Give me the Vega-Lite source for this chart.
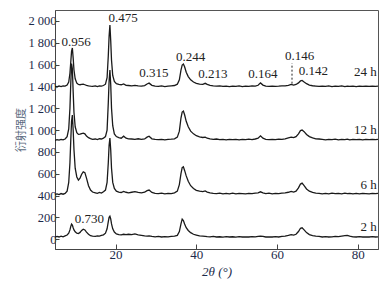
{
  "$schema": "https://vega.github.io/schema/vega-lite/v6.json",
  "width": 323,
  "height": 239,
  "autosize": "none",
  "padding": {"left": 55, "top": 10, "right": 8, "bottom": 37},
  "background": "white",
  "config": {
    "view": {"stroke": "#555", "strokeWidth": 1},
    "font": "Liberation Serif",
    "axis": {"labelOverlap": false, "labelSeparation": 0}
  },
  "encoding": {
    "x": {
      "field": "x", "type": "quantitative",
      "scale": {"domain": [5, 85], "nice": false, "zero": false},
      "axis": {
        "values": [20, 40, 60, 80], "grid": false,
        "title": "2θ (°)", "titleFontStyle": "italic", "titleFontWeight": "normal",
        "titleFont": "Liberation Serif", "titleFontSize": 13, "titleColor": "#1c2a4a",
        "titlePadding": 4,
        "labelFont": "Liberation Serif", "labelFontSize": 13, "labelColor": "#1c2a4a",
        "tickSize": -5, "labelPadding": 4, "tickColor": "#444", "domainColor": "#444",
        "labelFlush": false, "labelOverlap": false
      }
    },
    "y": {
      "field": "v", "type": "quantitative",
      "scale": {"domain": [-90, 2100], "nice": false, "zero": false},
      "axis": {
        "values": [0, 200, 400, 600, 800, 1000, 1200, 1400, 1600, 1800, 2000], "grid": false,
        "labelExpr": "replace(format(datum.value, ','), ',', ' ')",
        "title": "衍射强度", "titleFont": "Noto Sans CJK SC", "titleFontSize": 11,
        "titleFontWeight": "normal", "titleColor": "#5a6a80", "titlePadding": 1,
        "labelFont": "Liberation Serif", "labelFontSize": 12.5, "labelColor": "#1c2a4a",
        "tickSize": -4, "labelPadding": 3, "tickColor": "#444", "domainColor": "#444",
        "labelFlush": false, "labelOverlap": false, "labelBound": false
      }
    }
  },
  "layer": [
    {
      "data": {"values": [
        {"x":5,"h2":18,"h6":410,"h12":905,"h24":1400},
        {"x":5.5,"h2":25,"h6":415,"h12":912,"h24":1395},
        {"x":6,"h2":20,"h6":408,"h12":908,"h24":1404},
        {"x":6.5,"h2":28,"h6":418,"h12":915,"h24":1398},
        {"x":7,"h2":22,"h6":412,"h12":910,"h24":1405},
        {"x":7.5,"h2":30,"h6":420,"h12":918,"h24":1402},
        {"x":8,"h2":38,"h6":440,"h12":940,"h24":1412},
        {"x":8.4,"h2":55,"h6":520,"h12":1010,"h24":1440},
        {"x":8.7,"h2":85,"h6":700,"h12":1200,"h24":1520},
        {"x":8.9,"h2":115,"h6":900,"h12":1420,"h24":1620},
        {"x":9.1,"h2":138,"h6":1080,"h12":1610,"h24":1720},
        {"x":9.3,"h2":130,"h6":1137,"h12":1560,"h24":1752},
        {"x":9.5,"h2":105,"h6":1000,"h12":1350,"h24":1660},
        {"x":9.7,"h2":85,"h6":820,"h12":1160,"h24":1550},
        {"x":10,"h2":68,"h6":650,"h12":1030,"h24":1470},
        {"x":10.4,"h2":55,"h6":570,"h12":975,"h24":1430},
        {"x":10.8,"h2":52,"h6":541,"h12":960,"h24":1418},
        {"x":11.2,"h2":62,"h6":560,"h12":962,"h24":1415},
        {"x":11.6,"h2":80,"h6":595,"h12":968,"h24":1418},
        {"x":12,"h2":92,"h6":617,"h12":972,"h24":1420},
        {"x":12.4,"h2":85,"h6":610,"h12":965,"h24":1415},
        {"x":12.8,"h2":65,"h6":560,"h12":945,"h24":1410},
        {"x":13.3,"h2":45,"h6":490,"h12":930,"h24":1405},
        {"x":13.8,"h2":32,"h6":450,"h12":922,"h24":1402},
        {"x":14.3,"h2":28,"h6":432,"h12":915,"h24":1400},
        {"x":15,"h2":25,"h6":425,"h12":918,"h24":1405},
        {"x":15.5,"h2":30,"h6":420,"h12":912,"h24":1398},
        {"x":16,"h2":28,"h6":428,"h12":920,"h24":1404},
        {"x":16.5,"h2":35,"h6":422,"h12":918,"h24":1402},
        {"x":17,"h2":40,"h6":435,"h12":925,"h24":1408},
        {"x":17.5,"h2":55,"h6":450,"h12":940,"h24":1420},
        {"x":17.9,"h2":95,"h6":520,"h12":1000,"h24":1480},
        {"x":18.2,"h2":160,"h6":700,"h12":1250,"h24":1680},
        {"x":18.4,"h2":200,"h6":860,"h12":1450,"h24":1860},
        {"x":18.6,"h2":211,"h6":926,"h12":1550,"h24":1962},
        {"x":18.8,"h2":185,"h6":820,"h12":1420,"h24":1820},
        {"x":19,"h2":140,"h6":650,"h12":1200,"h24":1640},
        {"x":19.3,"h2":95,"h6":520,"h12":1040,"h24":1500},
        {"x":19.7,"h2":65,"h6":465,"h12":965,"h24":1445},
        {"x":20.2,"h2":48,"h6":440,"h12":940,"h24":1425},
        {"x":20.8,"h2":42,"h6":432,"h12":930,"h24":1418},
        {"x":21.4,"h2":40,"h6":428,"h12":925,"h24":1415},
        {"x":22,"h2":45,"h6":438,"h12":944,"h24":1422},
        {"x":22.6,"h2":42,"h6":430,"h12":925,"h24":1410},
        {"x":23.2,"h2":45,"h6":425,"h12":920,"h24":1408},
        {"x":24,"h2":42,"h6":430,"h12":918,"h24":1405},
        {"x":24.8,"h2":48,"h6":435,"h12":915,"h24":1410},
        {"x":25.6,"h2":40,"h6":428,"h12":920,"h24":1404},
        {"x":26.4,"h2":35,"h6":425,"h12":915,"h24":1402},
        {"x":27.2,"h2":30,"h6":430,"h12":918,"h24":1408},
        {"x":27.8,"h2":28,"h6":445,"h12":935,"h24":1422},
        {"x":28.3,"h2":30,"h6":450,"h12":944,"h24":1430},
        {"x":29,"h2":25,"h6":428,"h12":920,"h24":1410},
        {"x":29.8,"h2":22,"h6":420,"h12":915,"h24":1403},
        {"x":30.6,"h2":25,"h6":418,"h12":912,"h24":1400},
        {"x":31.4,"h2":20,"h6":422,"h12":915,"h24":1404},
        {"x":32.2,"h2":24,"h6":415,"h12":910,"h24":1398},
        {"x":33,"h2":22,"h6":420,"h12":914,"h24":1402},
        {"x":33.8,"h2":26,"h6":418,"h12":916,"h24":1405},
        {"x":34.6,"h2":28,"h6":425,"h12":920,"h24":1408},
        {"x":35.3,"h2":35,"h6":440,"h12":935,"h24":1420},
        {"x":35.8,"h2":70,"h6":500,"h12":990,"h24":1460},
        {"x":36.2,"h2":140,"h6":600,"h12":1110,"h24":1550},
        {"x":36.5,"h2":183,"h6":655,"h12":1165,"h24":1595},
        {"x":36.8,"h2":170,"h6":663,"h12":1174,"h24":1605},
        {"x":37.1,"h2":140,"h6":630,"h12":1140,"h24":1580},
        {"x":37.5,"h2":105,"h6":580,"h12":1080,"h24":1530},
        {"x":38,"h2":80,"h6":530,"h12":1030,"h24":1490},
        {"x":38.6,"h2":60,"h6":490,"h12":990,"h24":1460},
        {"x":39.3,"h2":45,"h6":465,"h12":965,"h24":1440},
        {"x":40,"h2":38,"h6":448,"h12":948,"h24":1428},
        {"x":40.8,"h2":30,"h6":440,"h12":938,"h24":1420},
        {"x":41.6,"h2":28,"h6":435,"h12":932,"h24":1418},
        {"x":42.2,"h2":26,"h6":442,"h12":935,"h24":1428},
        {"x":42.7,"h2":24,"h6":432,"h12":925,"h24":1418},
        {"x":43.4,"h2":22,"h6":425,"h12":920,"h24":1410},
        {"x":44.2,"h2":25,"h6":420,"h12":915,"h24":1405},
        {"x":45,"h2":20,"h6":418,"h12":918,"h24":1402},
        {"x":45.8,"h2":22,"h6":422,"h12":912,"h24":1404},
        {"x":46.6,"h2":18,"h6":415,"h12":915,"h24":1400},
        {"x":47.4,"h2":24,"h6":420,"h12":910,"h24":1403},
        {"x":48.2,"h2":20,"h6":416,"h12":914,"h24":1398},
        {"x":49,"h2":22,"h6":422,"h12":912,"h24":1402},
        {"x":49.8,"h2":18,"h6":415,"h12":915,"h24":1400},
        {"x":50.6,"h2":24,"h6":420,"h12":910,"h24":1404},
        {"x":51.4,"h2":20,"h6":418,"h12":914,"h24":1398},
        {"x":52.2,"h2":22,"h6":415,"h12":912,"h24":1402},
        {"x":53,"h2":20,"h6":420,"h12":916,"h24":1400},
        {"x":53.8,"h2":24,"h6":418,"h12":912,"h24":1404},
        {"x":54.6,"h2":22,"h6":422,"h12":918,"h24":1402},
        {"x":55.3,"h2":25,"h6":425,"h12":925,"h24":1410},
        {"x":55.9,"h2":28,"h6":434,"h12":947,"h24":1432},
        {"x":56.5,"h2":25,"h6":425,"h12":925,"h24":1412},
        {"x":57.2,"h2":20,"h6":418,"h12":915,"h24":1402},
        {"x":58,"h2":22,"h6":422,"h12":912,"h24":1400},
        {"x":58.8,"h2":20,"h6":416,"h12":915,"h24":1403},
        {"x":59.6,"h2":24,"h6":420,"h12":912,"h24":1400},
        {"x":60.4,"h2":20,"h6":418,"h12":916,"h24":1402},
        {"x":61.2,"h2":25,"h6":422,"h12":915,"h24":1405},
        {"x":62,"h2":28,"h6":425,"h12":920,"h24":1404},
        {"x":62.8,"h2":35,"h6":430,"h12":928,"h24":1410},
        {"x":63.5,"h2":42,"h6":438,"h12":935,"h24":1418},
        {"x":64.1,"h2":38,"h6":432,"h12":930,"h24":1412},
        {"x":64.7,"h2":45,"h6":440,"h12":940,"h24":1418},
        {"x":65.3,"h2":70,"h6":470,"h12":965,"h24":1432},
        {"x":65.8,"h2":100,"h6":505,"h12":995,"h24":1450},
        {"x":66.2,"h2":104,"h6":513,"h12":1000,"h24":1455},
        {"x":66.7,"h2":85,"h6":490,"h12":985,"h24":1440},
        {"x":67.3,"h2":60,"h6":460,"h12":960,"h24":1425},
        {"x":68,"h2":42,"h6":440,"h12":940,"h24":1412},
        {"x":68.8,"h2":32,"h6":428,"h12":928,"h24":1406},
        {"x":69.6,"h2":28,"h6":422,"h12":920,"h24":1403},
        {"x":70.4,"h2":25,"h6":420,"h12":918,"h24":1400},
        {"x":71.2,"h2":20,"h6":416,"h12":914,"h24":1403},
        {"x":72,"h2":24,"h6":420,"h12":910,"h24":1400},
        {"x":72.8,"h2":20,"h6":415,"h12":915,"h24":1404},
        {"x":73.6,"h2":22,"h6":422,"h12":912,"h24":1398},
        {"x":74.4,"h2":25,"h6":418,"h12":916,"h24":1402},
        {"x":75.2,"h2":24,"h6":420,"h12":910,"h24":1400},
        {"x":76,"h2":28,"h6":416,"h12":914,"h24":1404},
        {"x":76.8,"h2":32,"h6":422,"h12":912,"h24":1398},
        {"x":77.4,"h2":34,"h6":418,"h12":916,"h24":1402},
        {"x":78,"h2":28,"h6":420,"h12":910,"h24":1400},
        {"x":78.8,"h2":22,"h6":415,"h12":914,"h24":1403},
        {"x":79.6,"h2":20,"h6":420,"h12":912,"h24":1398},
        {"x":80.4,"h2":24,"h6":416,"h12":915,"h24":1402},
        {"x":81.2,"h2":20,"h6":420,"h12":910,"h24":1400},
        {"x":82,"h2":22,"h6":418,"h12":914,"h24":1403},
        {"x":82.8,"h2":20,"h6":415,"h12":912,"h24":1400},
        {"x":83.6,"h2":24,"h6":420,"h12":915,"h24":1402},
        {"x":84.4,"h2":20,"h6":418,"h12":912,"h24":1400},
        {"x":85,"h2":22,"h6":420,"h12":914,"h24":1402}
      ]},
      "transform": [{"fold": ["h2", "h6", "h12", "h24"], "as": ["series", "v"]}],
      "mark": {"type": "line", "color": "#1a1a1a", "strokeWidth": 1.3, "clip": true},
      "encoding": {
        "detail": {"field": "series"}
      }
    },
    {
      "data": {"values": [{"x": 63.7, "v": 1425, "v2": 1612}]},
      "mark": {"type": "rule", "color": "#222", "strokeDash": [2, 2], "strokeWidth": 1},
      "encoding": {
        "y2": {"field": "v2"}
      }
    },
    {
      "data": {"values": [
        {"x": 10.25, "v": 1804, "t": "0.956"},
        {"x": 21.9, "v": 2024, "t": "0.475"},
        {"x": 29.5, "v": 1525, "t": "0.315"},
        {"x": 38.6, "v": 1666, "t": "0.244"},
        {"x": 44.1, "v": 1513, "t": "0.213"},
        {"x": 56.5, "v": 1516, "t": "0.164"},
        {"x": 65.6, "v": 1681, "t": "0.146"},
        {"x": 69, "v": 1540, "t": "0.142"},
        {"x": 13.5, "v": 183, "t": "0.730"}
      ]},
      "mark": {"type": "text", "font": "Liberation Serif", "fontSize": 13, "color": "#222", "align": "center", "baseline": "middle"},
      "encoding": {
        "text": {"field": "t"}
      }
    },
    {
      "data": {"values": [
        {"x": 84.7, "v": 1531, "t": "24 h"},
        {"x": 84.7, "v": 1000, "t": "12 h"},
        {"x": 84.7, "v": 495, "t": "6 h"},
        {"x": 84.7, "v": 113, "t": "2 h"}
      ]},
      "mark": {"type": "text", "font": "Liberation Serif", "fontSize": 13, "color": "#222", "align": "right", "baseline": "middle"},
      "encoding": {
        "text": {"field": "t"}
      }
    }
  ]
}
